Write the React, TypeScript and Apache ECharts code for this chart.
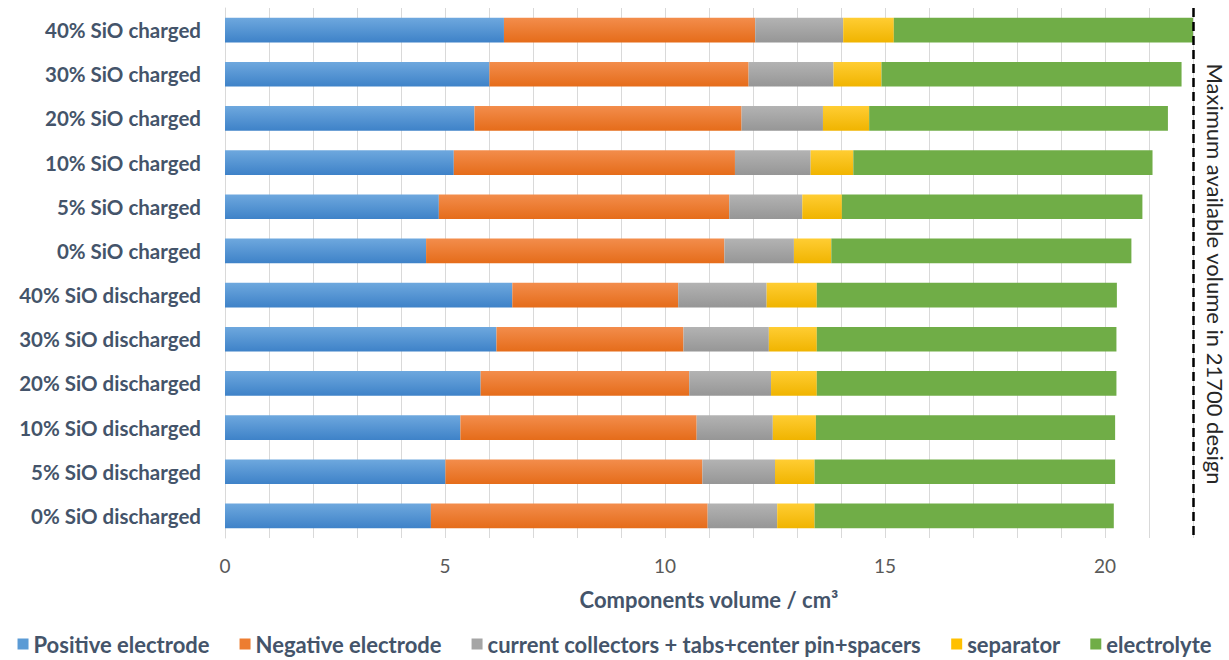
import React, { useEffect, useRef } from "react";
import * as echarts from "echarts";

const categories = [
  "40% SiO charged",
  "30% SiO charged",
  "20% SiO charged",
  "10% SiO charged",
  "5% SiO charged",
  "0% SiO charged",
  "40% SiO discharged",
  "30% SiO discharged",
  "20% SiO discharged",
  "10% SiO discharged",
  "5% SiO discharged",
  "0% SiO discharged",
];

const positiveElectrode = [6.34, 6.01, 5.67, 5.2, 4.86, 4.57, 6.53, 6.17, 5.81, 5.35, 5.01, 4.68];
const negativeElectrode = [5.71, 5.89, 6.07, 6.39, 6.6, 6.78, 3.77, 4.25, 4.74, 5.37, 5.84, 6.29];
const collectors = [2.0, 1.93, 1.85, 1.72, 1.66, 1.58, 2.01, 1.94, 1.86, 1.73, 1.65, 1.58];
const separator = [1.15, 1.09, 1.05, 0.97, 0.9, 0.85, 1.14, 1.09, 1.04, 0.98, 0.9, 0.85];
const electrolyte = [6.8, 6.82, 6.79, 6.8, 6.83, 6.82, 6.82, 6.81, 6.81, 6.8, 6.83, 6.8];

const seriesNames = [
  "Positive electrode",
  "Negative electrode",
  "current collectors + tabs+center pin+spacers",
  "separator",
  "electrolyte",
];

const maxVolume = 22;
const xTickLabels = [0, 5, 10, 15, 20];

const grad = (top: string, bottom: string) =>
  new echarts.graphic.LinearGradient(0, 0, 0, 1, [
    { offset: 0, color: top },
    { offset: 1, color: bottom },
  ]);

export default function App() {
  const ref = useRef<HTMLDivElement>(null);
  useEffect(() => {
    if (!ref.current) return;
    const chart = echarts.init(ref.current, null, { renderer: "svg" });
    const font = "Lato";
    const labelColor = "#44546a";
    const colors = [
      grad("#6ea8de", "#3e82c8"),
      grad("#f38d4c", "#e56c1a"),
      grad("#b3b3b3", "#969696"),
      grad("#ffcd33", "#f0b400"),
      "#70ad47",
    ];
    const legendColors = ["#5b9bd5", "#ed7d31", "#a5a5a5", "#ffc000", "#70ad47"];
    const dataSets = [positiveElectrode, negativeElectrode, collectors, separator, electrolyte];
    chart.setOption({
      animation: false,
      grid: { left: 225, right: 36, top: 8, bottom: 122, containLabel: false },
      legend: {
        bottom: 0,
        left: "center",
        icon: "rect",
        itemWidth: 11,
        itemHeight: 11,
        itemGap: 30,
        textStyle: { fontFamily: font, fontWeight: "bold", fontSize: 22, color: labelColor },
        data: seriesNames.map((n, i) => ({ name: n, itemStyle: { color: legendColors[i] } })),
      },
      xAxis: {
        type: "value",
        min: 0,
        max: maxVolume,
        interval: 1,
        name: "Components volume / cm³",
        nameLocation: "middle",
        nameGap: 50,
        nameTextStyle: { fontFamily: font, fontWeight: "bold", fontSize: 22, color: labelColor },
        axisLine: { show: false },
        axisTick: { show: false },
        axisLabel: {
          margin: 18,
          fontFamily: font,
          fontSize: 19,
          color: "#595959",
          formatter: (v: number) => (xTickLabels.includes(v) ? String(v) : ""),
        },
        splitLine: { show: true, lineStyle: { color: "#d9d9d9", width: 1 } },
      },
      yAxis: {
        type: "category",
        data: categories,
        inverse: true,
        axisLine: { show: true, lineStyle: { color: "#d9d9d9" } },
        axisTick: { show: false },
        axisLabel: {
          margin: 24,
          fontFamily: font,
          fontWeight: "bold",
          fontSize: 20.5,
          color: labelColor,
        },
      },
      series: seriesNames.map((name, i) => ({
        name,
        type: "bar",
        stack: "total",
        barCategoryGap: "44%",
        data: dataSets[i],
        itemStyle: { color: colors[i] },
        ...(i === 4
          ? {
              markLine: {
                silent: true,
                symbol: ["none", "none"],
                label: { show: false },
                lineStyle: { type: [9, 5], color: "#000", width: 2.5 },
                data: [{ xAxis: maxVolume }],
              },
            }
          : {}),
      })),
      graphic: [
        {
          type: "text",
          x: 1215,
          y: 274,
          rotation: -Math.PI / 2,
          style: {
            text: "Maximum available volume in 21700 design",
            fontFamily: font,
            fontSize: 22,
            fill: "#262626",
            align: "center",
            verticalAlign: "middle",
          },
        },
      ],
    });
    return () => chart.dispose();
  }, []);
  return (
    <div
      ref={ref}
      style={{ position: "fixed", left: 0, top: 0, width: 1229, height: 660, background: "#fff" }}
    />
  );
}
